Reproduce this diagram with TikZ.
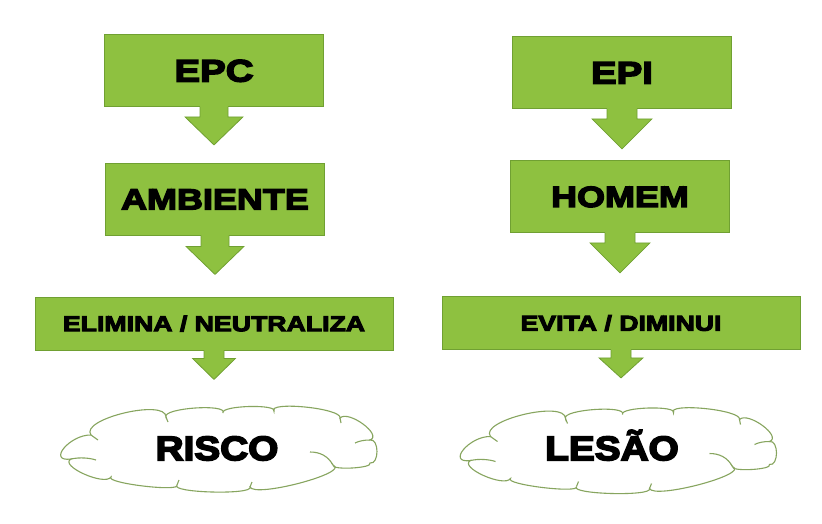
\documentclass[tikz,border=0pt]{standalone}
\usepackage{fontspec}
\newfontfamily\boxfont[FakeStretch=1.24,FakeBold=5]{Liberation Sans Bold}
\newfontfamily\cloudfont[FakeStretch=1.14,FakeBold=5]{Liberation Sans Bold}
\usetikzlibrary{calc}
\definecolor{boxgreen}{RGB}{142,193,64}
\definecolor{boxedge}{RGB}{112,160,50}
\definecolor{cloudedge}{RGB}{135,165,95}

\newcommand\puff[3]{.. controls ($0.4133*(#1)+1.3333*(#2)-0.7467*(#3)$) and ($0.4133*(#3)+1.3333*(#2)-0.7467*(#1)$) .. (#3)}

\newcommand\blockarrow[5]{%
  \fill[boxgreen] ($(#1.south)+(-#2,1.5)$) -- ($(#1.south)+(-#2,-#3)$) -- ($(#1.south)+(-#4,-#3)$) -- ($(#1.south)+(0,-#3-#5)$) -- ($(#1.south)+(#4,-#3)$) -- ($(#1.south)+(#2,-#3)$) -- ($(#1.south)+(#2,1.5)$) -- cycle;
  \draw[edgeline] ($(#1.south)+(-#2,0)$) -- ($(#1.south)+(-#2,-#3)$) -- ($(#1.south)+(-#4,-#3)$) -- ($(#1.south)+(0,-#3-#5)$) -- ($(#1.south)+(#4,-#3)$) -- ($(#1.south)+(#2,-#3)$) -- ($(#1.south)+(#2,0)$);
}

\newcommand\drawcloud[1]{%
\begin{scope}[shift={(#1)}]
  \coordinate (pA) at (-129,14);
  \coordinate (pB) at (-54,32);
  \coordinate (pC) at (3,36);
  \coordinate (pD) at (54,37.5);
  \coordinate (pE) at (120,31);
  \coordinate (pF) at (150,9);
  \coordinate (pG) at (150,-14);
  \coordinate (pH) at (113,-16);
  \coordinate (pI) at (30,-38);
  \coordinate (pK) at (-43,-36);
  \coordinate (pL) at (-109,-28);
  \coordinate (pM) at (-149,-10);
  \coordinate (mAB) at (-96,36);
  \coordinate (mBC) at (-25,41);
  \coordinate (mCD) at (29,42.5);
  \coordinate (mDE) at (85,42);
  \coordinate (mEF) at (143,25);
  \coordinate (mFG) at (157,-2.5);
  \coordinate (mGH) at (132,-19);
  \coordinate (mHI) at (80,-34);
  \coordinate (mIK) at (-8,-43);
  \coordinate (mKL) at (-77,-37);
  \coordinate (mLM) at (-136,-25);
  \coordinate (mMA) at (-156,1);
  \filldraw[cloudline, fill=white] (pA) \puff{pA}{mAB}{pB} \puff{pB}{mBC}{pC} \puff{pC}{mCD}{pD} \puff{pD}{mDE}{pE} \puff{pE}{mEF}{pF} \puff{pF}{mFG}{pG} \puff{pG}{mGH}{pH} \puff{pH}{mHI}{pI} \puff{pI}{mIK}{pK} \puff{pK}{mKL}{pL} \puff{pL}{mLM}{pM} \puff{pM}{mMA}{pA} -- cycle;
  \draw[cloudline] (pM) .. controls (-140,-8) and (-130,-9) .. (-124,-11);
  \draw[cloudline] (pA) .. controls (-126,11) .. (-122,9);
  \draw[cloudline] (pH) .. controls (108,-7) and (100,-3) .. (90,-3);
  \draw[cloudline] (pF) .. controls (144,9) and (139,8) .. (135,6);
  \draw[cloudline] (pE) .. controls (121,28) .. (121,26);
  \draw[cloudline] (pB) .. controls (-53,29) .. (-52,27);
  \draw[cloudline] (pK) .. controls (-42,-33) .. (-41,-31);
  \draw[cloudline] (pI) .. controls (31,-35) .. (32,-33);
\end{scope}}

\begin{document}
\begin{tikzpicture}[x=1pt,y=1pt,
  edgeline/.style={draw=boxedge, line width=0.8pt, line join=miter},
  greenbox/.style={draw=boxedge, fill=boxgreen, line width=0.8pt, inner sep=0pt, text=black, text depth=0pt},
  topbox/.style={greenbox, minimum width=219pt, minimum height=72pt},
  widebox/.style={greenbox, minimum width=358pt, minimum height=53pt},
  cloudline/.style={draw=cloudedge, line width=1.1pt},
  cloudtext/.style={inner sep=0pt, text=black, text height=24.3pt, text depth=0pt, font=\cloudfont\fontsize{34pt}{34pt}\selectfont}
]
\useasboundingbox (0,0) rectangle (822,-523);
\fill[white] (0,0) rectangle (822,-523);

\node[topbox, text height=22pt, font=\boxfont\fontsize{31pt}{31pt}\selectfont] (epc) at (214,-70.5) {EPC};
\node[topbox, text height=20.8pt, font=\boxfont\fontsize{29pt}{29pt}\selectfont] (amb) at (215,-199) {AMBIENTE};
\node[widebox, text height=15.4pt, font=\boxfont\fontsize{21.5pt}{21.5pt}\selectfont] (elim) at (214,-323.5) {ELIMINA / NEUTRALIZA};

\node[topbox, text height=22pt, font=\boxfont\fontsize{31pt}{31pt}\selectfont] (epi) at (622,-72.5) {EPI};
\node[topbox, text height=20.8pt, font=\boxfont\fontsize{29pt}{29pt}\selectfont] (hom) at (620,-196.5) {HOMEM};
\node[widebox, text height=15.4pt, font=\boxfont\fontsize{21.5pt}{21.5pt}\selectfont] (evit) at (621,-323) {EVITA / DIMINUI};

\blockarrow{epc}{14}{10}{29}{28}
\blockarrow{amb}{14}{11}{29}{28}
\blockarrow{elim}{10}{8}{21.5}{21}
\blockarrow{epi}{15}{10}{30}{30}
\blockarrow{hom}{15}{10}{30}{30}
\blockarrow{evit}{10}{8}{22}{20}

\drawcloud{220,-449}
\node[cloudtext] (risco) at (217,-448) {RISCO};
\drawcloud{619.5,-450.5}
\node[cloudtext] (lesao) at (612,-448) {LESÃO};
\end{tikzpicture}
\end{document}
